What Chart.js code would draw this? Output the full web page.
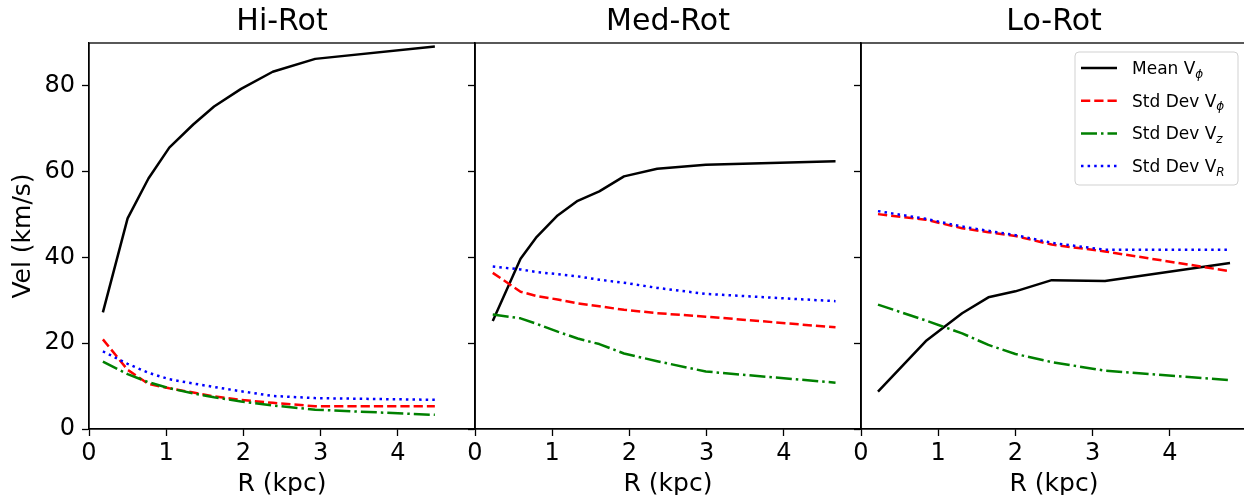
<!DOCTYPE html>
<html>
<head>
<meta charset="utf-8">
<script src="https://cdn.jsdelivr.net/npm/chart.js@4"></script>
<style>
  html, body { margin: 0; padding: 0; background: #fff; overflow: hidden; }
  #wrap { position: relative; width: 1244px; height: 495px; overflow: hidden; }
  canvas { position: absolute; top: 0; }
</style>
</head>
<body>
<div id="wrap">
  <canvas id="hiChart" width="476" height="495" style="left:0px"></canvas>
  <canvas id="medChart" width="407" height="495" style="left:455px"></canvas>
  <canvas id="loChart" width="407" height="495" style="left:841px"></canvas>
</div>
<script>
const panelTitles = ['Hi-Rot', 'Med-Rot', 'Lo-Rot'];
const seriesNames = ['Mean V', 'Std Dev V', 'Std Dev V', 'Std Dev V'];
const seriesSubs = ['ϕ', 'ϕ', 'z', 'R'];
const yTicks = [0, 20, 40, 60, 80];
const xTicks = [0, 1, 2, 3, 4];

// Hi-Rot
const hiR = [0.18, 0.50, 0.77, 1.04, 1.35, 1.62, 1.97, 2.38, 2.93, 4.48];
const hiMean = [27.2, 49.1, 58.4, 65.6, 71.0, 75.2, 79.3, 83.3, 86.3, 89.2];
const hiStdPhi = [20.9, 13.8, 10.5, 9.5, 8.5, 7.6, 6.8, 6.1, 5.3, 5.3];
const hiStdZ = [15.7, 12.8, 10.9, 9.5, 8.3, 7.4, 6.4, 5.5, 4.5, 3.3];
const hiStdR = [18.1, 15.2, 13.1, 11.6, 10.6, 9.8, 8.8, 7.7, 7.2, 6.8];

// Med-Rot
const medR = [0.23, 0.59, 0.80, 1.07, 1.33, 1.61, 1.93, 2.36, 2.99, 4.67];
const medMean = [25.2, 39.7, 44.8, 49.8, 53.2, 55.4, 58.9, 60.7, 61.6, 62.4];
const medStdPhi = [36.4, 32.0, 31.0, 30.2, 29.3, 28.6, 27.8, 27.0, 26.2, 23.7];
const medStdZ = [26.7, 25.8, 24.5, 22.7, 21.1, 19.8, 17.6, 15.8, 13.4, 10.8];
const medStdR = [37.9, 37.2, 36.6, 36.1, 35.6, 34.8, 34.1, 32.9, 31.5, 29.8];

// Lo-Rot
const loR = [0.22, 0.84, 1.31, 1.65, 2.00, 2.47, 3.16, 4.78];
const loMean = [8.7, 20.5, 27.0, 30.7, 32.1, 34.7, 34.5, 38.7];
const loStdPhi = [50.1, 48.8, 46.8, 45.9, 45.0, 43.0, 41.4, 36.8];
const loStdZ = [29.0, 25.3, 22.3, 19.6, 17.5, 15.6, 13.6, 11.4];
const loStdR = [50.8, 49.0, 47.2, 46.2, 45.2, 43.4, 41.8, 41.8];

const FONT = '"DejaVu Sans", sans-serif';
const lineColors = ['#000000', '#ff0000', '#008000', '#0000ff'];
const lineDashes = [[], [9.25, 4], [16, 4, 2.5, 4], [2.5, 4.1]];

// box around each panel
const framePlugin = {
  id: 'frame',
  afterDraw(chart) {
    const { ctx, chartArea: a } = chart;
    ctx.save();
    ctx.strokeStyle = '#000';
    ctx.lineWidth = 1.3;
    ctx.strokeRect(a.left, a.top, a.right - a.left, a.bottom - a.top);
    ctx.restore();
  }
};

// matplotlib-like legend with subscripts (only on the last panel)
const subLegend = {
  id: 'subLegend',
  afterDraw(chart) {
    const { ctx, chartArea: a } = chart;
    const x0 = a.left + 214, y0 = a.top + 9;
    ctx.save();
    ctx.beginPath();
    ctx.roundRect(x0, y0, 163, 133, 4);
    ctx.fillStyle = 'rgba(255,255,255,0.8)';
    ctx.fill();
    ctx.strokeStyle = 'rgba(204,204,204,0.9)';
    ctx.lineWidth = 1;
    ctx.stroke();
    chart.data.datasets.forEach((ds, i) => {
      const y = y0 + 16 + i * 32.7;
      ctx.beginPath();
      ctx.setLineDash(ds.borderDash);
      ctx.strokeStyle = ds.borderColor;
      ctx.lineWidth = ds.borderWidth;
      ctx.moveTo(x0 + 6, y);
      ctx.lineTo(x0 + 42, y);
      ctx.stroke();
      ctx.setLineDash([]);
      ctx.fillStyle = '#000';
      ctx.textBaseline = 'alphabetic';
      ctx.font = '17px ' + FONT;
      ctx.fillText(seriesNames[i], x0 + 57, y + 6);
      const w = ctx.measureText(seriesNames[i]).width;
      ctx.font = 'italic 12px ' + FONT;
      ctx.fillText(seriesSubs[i], x0 + 57 + w, y + 9.5);
    });
    ctx.restore();
  }
};

function makePanel(canvasId, idx, R, mean, stdPhi, stdZ, stdR) {
  const values = [mean, stdPhi, stdZ, stdR];
  const datasets = values.map((vals, i) => ({
    label: seriesNames[i] + seriesSubs[i],
    data: R.map((r, k) => ({ x: r, y: vals[k] })),
    borderColor: lineColors[i],
    borderDash: lineDashes[i],
    borderWidth: 2.5,
    borderJoinStyle: 'round',
    pointRadius: 0,
    tension: 0,
    fill: false,
    order: 3 - i
  }));
  const first = idx === 0;
  return new Chart(document.getElementById(canvasId), {
    type: 'line',
    data: { datasets },
    options: {
      responsive: false,
      animation: false,
      devicePixelRatio: 1,
      layout: { padding: { left: 0, right: 1, top: 0, bottom: 0 } },
      plugins: {
        legend: { display: false },
        tooltip: { enabled: false },
        title: {
          display: true,
          text: panelTitles[idx],
          fullSize: false,
          color: '#000',
          font: { family: FONT, size: 30, weight: 'normal', lineHeight: 1.2 },
          padding: { top: 4, bottom: 3 }
        }
      },
      scales: {
        x: {
          type: 'linear',
          min: 0,
          max: 5,
          afterBuildTicks: s => { s.ticks = xTicks.map(v => ({ value: v })); },
          afterFit: s => { s.height = 66; },
          ticks: { color: '#000', font: { family: FONT, size: 24 }, padding: 3, maxRotation: 0, autoSkip: false },
          grid: { drawOnChartArea: false, drawTicks: true, tickLength: 7, tickWidth: 1.3, tickColor: '#000' },
          border: { display: true, color: '#000', width: 1.3 },
          title: {
            display: true, text: 'R (kpc)', color: '#000',
            font: { family: FONT, size: 25, lineHeight: 1 },
            padding: { top: 0, bottom: -1.5 }
          }
        },
        y: {
          min: 0,
          max: 90,
          afterBuildTicks: s => { s.ticks = yTicks.map(v => ({ value: v })); },
          afterFit: s => { s.width = first ? 89 : 20; },
          ticks: { display: first, color: '#000', font: { family: FONT, size: 24 }, padding: 7 },
          grid: { drawOnChartArea: false, drawTicks: true, tickLength: 7, tickWidth: 1.3, tickColor: '#000' },
          border: { display: true, color: '#000', width: 1.3 },
          title: {
            display: first, text: 'Vel (km/s)', color: '#000',
            font: { family: FONT, size: 25, lineHeight: 1.2 },
            padding: { top: 8.5, bottom: 0 }
          }
        }
      }
    },
    plugins: idx === 2 ? [framePlugin, subLegend] : [framePlugin]
  });
}

makePanel('hiChart', 0, hiR, hiMean, hiStdPhi, hiStdZ, hiStdR);
makePanel('medChart', 1, medR, medMean, medStdPhi, medStdZ, medStdR);
makePanel('loChart', 2, loR, loMean, loStdPhi, loStdZ, loStdR);
</script>
</body>
</html>
